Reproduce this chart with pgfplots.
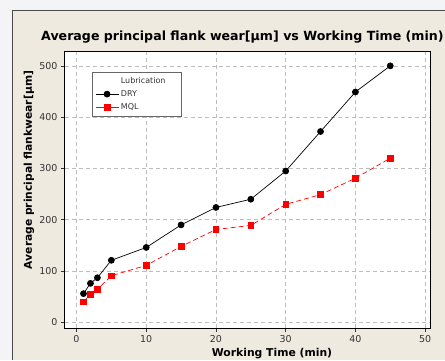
\documentclass[border=0pt]{standalone}
\usepackage{fontspec}
\setmainfont{DejaVu Sans}
\usepackage{pgfplots}
\pgfplotsset{compat=1.18}
\definecolor{panel}{RGB}{238,234,224}
\definecolor{outerbg}{RGB}{244,244,246}
\definecolor{gridc}{RGB}{190,190,190}
\begin{document}
\begin{tikzpicture}[x=1pt,y=1pt]
\useasboundingbox (0,0) rectangle (445,360);
\fill[outerbg] (0,0) rectangle (445,360);
\fill[panel] (12,0) rectangle (445,350);
\draw[black!70, line width=1pt] (12,0) -- (12,350) -- (445,350);
\node[anchor=base west, inner sep=0pt, font=\bfseries\fontsize{12.6}{14}\selectfont] at (41,319.3) {Average principal flank wear[μm] vs Working Time (min)};
\node[rotate=90, font=\bfseries\fontsize{10.7}{12}\selectfont] at (29,190) {Average principal flankwear[μm]};
\node[anchor=base, font=\bfseries\fontsize{10.8}{12}\selectfont] at (272,4) {Working Time (min)};
\begin{axis}[
  at={(65pt,32pt)}, anchor=south west,
  scale only axis, width=365pt, height=276pt,
  xmin=-1.65, xmax=50.7, ymin=-11, ymax=527,
  xtick={0,10,...,50}, ytick={0,100,...,500},
  tick align=outside, major tick length=4pt,
  tick style={black!80, line width=0.6pt},
  xtick pos=left, ytick pos=left,
  grid=major, grid style={gridc, dash pattern=on 4pt off 3pt, line width=0.6pt},
  axis line style={black, line width=1pt},
  axis background/.style={fill=white},
  ticklabel style={font=\fontsize{9.5}{10}\selectfont, text=black!80},
  /pgf/number format/assume math mode=true,
  legend style={at={(0.074,0.928)}, anchor=north west, draw=black!60, fill=white,
    font=\fontsize{8}{9}\selectfont, text=black!80, row sep=1.8pt, inner sep=3pt},
  legend cell align=left,
  legend image code/.code={\draw[mark repeat=2,mark phase=2,#1,solid] plot coordinates {(0pt,0pt) (11.5pt,0pt) (23pt,0pt)};},
]
\addlegendimage{empty legend}
\addlegendentry{Lubrication\rule{11pt}{0pt}}
\addplot[black, line width=0.7pt, mark=*, mark size=3pt] coordinates {
(1,56) (2,76) (3,87) (5,121) (10,146) (15,190) (20,224) (25,240) (30,295) (35,372) (40,449) (45,500)};
\addlegendentry{DRY}
\addplot[red, line width=0.7pt, dash pattern=on 5pt off 3pt, mark=square*, mark size=2.8pt, mark options={solid}] coordinates {
(1,40) (2,55) (3,64) (5,91) (10,111) (15,148) (20,181) (25,189) (30,230) (35,249) (40,281) (45,320)};
\addlegendentry{MQL}
\end{axis}
\end{tikzpicture}
\end{document}
